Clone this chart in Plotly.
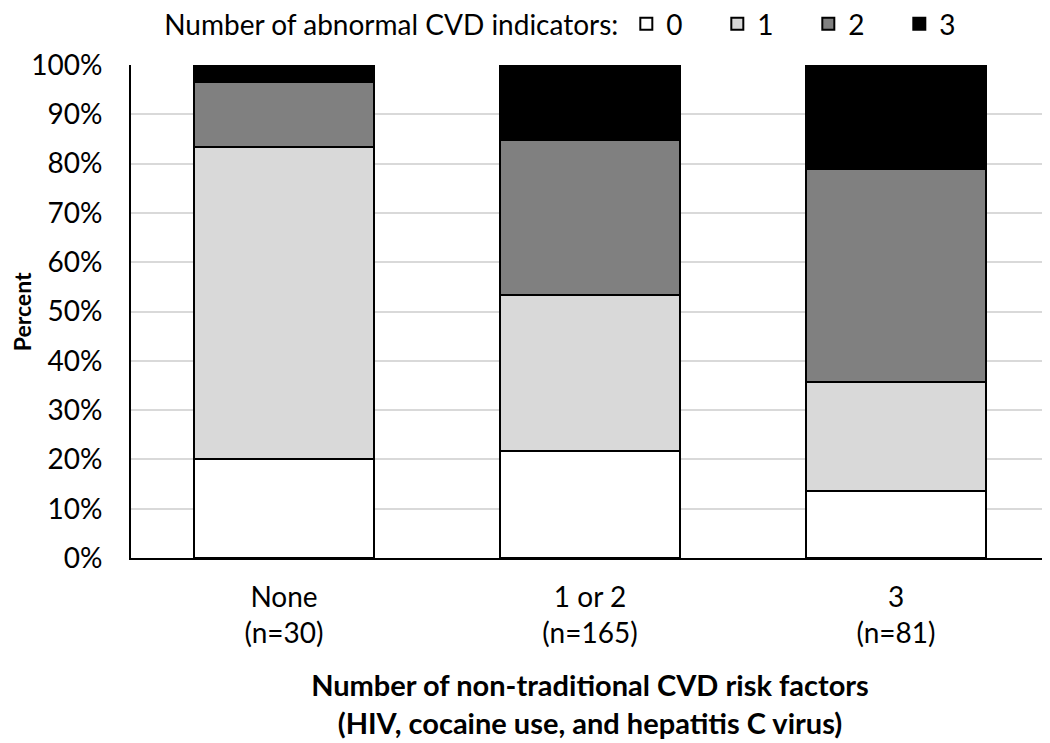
import plotly.graph_objects as go

categories = ["None<br>(n=30)", "1 or 2<br>(n=165)", "3<br>(n=81)"]
series_names = ["0", "1", "2", "3"]
pct_0 = [20.0, 21.8, 13.6]
pct_1 = [63.3, 31.5, 22.2]
pct_2 = [13.3, 31.5, 43.2]
pct_3 = [3.4, 15.2, 21.0]
colors = ["#ffffff", "#d9d9d9", "#808080", "#000000"]

FONT = "Lato, sans-serif"

fig = go.Figure()
for name, vals, col in zip(series_names, [pct_0, pct_1, pct_2, pct_3], colors):
    fig.add_trace(go.Bar(
        x=categories, y=vals, name=name,
        marker=dict(color=col, line=dict(color="black", width=2)),
    ))

fig.update_layout(
    barmode="stack",
    bargap=0.41,
    width=1042, height=735,
    margin=dict(l=123, r=1, t=57, b=185, autoexpand=False),
    plot_bgcolor="white", paper_bgcolor="white",
    font=dict(family=FONT, size=28, color="black"),
    legend=dict(
        orientation="h", xref="container", yref="paper",
        x=0.148, y=1.083, xanchor="left", yanchor="middle",
        title=dict(text="Number of abnormal CVD indicators:", side="left",
                   font=dict(size=28)),
        font=dict(size=28), itemwidth=30, traceorder="normal",
        entrywidth=46, entrywidthmode="pixels",
    ),
    showlegend=True,
    xaxis=dict(
        showline=True, linecolor="black", linewidth=2,
        ticks="", tickfont=dict(size=28), ticklabelstandoff=13,
        title=dict(text="<b>Number of non-traditional CVD risk factors<br>(HIV, cocaine use, and hepatitis C virus)</b>",
                   font=dict(size=29), standoff=28),
    ),
    yaxis=dict(
        range=[0, 100], dtick=10, ticksuffix="%",
        showline=True, linecolor="black", linewidth=2,
        showgrid=True, gridcolor="#d9d9d9", gridwidth=2,
        tickfont=dict(size=28), ticklabelstandoff=21,
    ),
    annotations=[dict(
        text="<b>Percent</b>", textangle=-90, showarrow=False,
        xref="paper", yref="paper", x=-0.119, y=0.5,
        xanchor="center", yanchor="middle", font=dict(size=23),
    )],
)

fig.write_html("out.html")
